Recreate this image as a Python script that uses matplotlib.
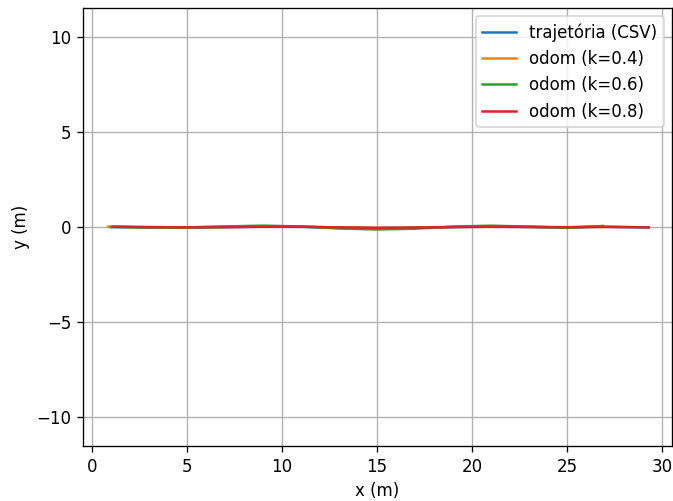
import matplotlib
matplotlib.use("Agg")
import matplotlib.pyplot as plt

# trajetória de referência (CSV)
x_csv = [1.0, 3.0, 5.0, 7.0, 9.0, 11.0, 13.0, 15.0, 17.0, 19.0, 21.0, 23.0, 25.0, 27.0, 29.3]
y_csv = [0.0, -0.02, -0.03, -0.01, 0.02, 0.01, -0.04, -0.06, -0.04, 0.0, 0.02, 0.0, -0.02, 0.02, -0.02]

# odometria com diferentes ganhos
x_k04 = [0.85, 3.0, 5.0, 7.0, 9.0, 11.0, 13.0, 15.0, 17.0, 19.0, 21.0, 23.0, 25.0, 26.9]
y_k04 = [0.02, 0.0, -0.02, 0.01, 0.04, 0.03, -0.03, -0.07, -0.05, 0.01, 0.04, 0.01, -0.02, 0.05]

x_k06 = [1.0, 3.0, 5.0, 7.0, 9.0, 11.0, 13.0, 15.0, 17.0, 19.0, 21.0, 23.0, 25.0, 26.9]
y_k06 = [0.0, -0.02, -0.02, 0.03, 0.07, 0.03, -0.08, -0.13, -0.09, 0.02, 0.07, 0.02, -0.05, 0.05]

x_k08 = [1.1, 3.0, 5.0, 7.0, 9.0, 11.0, 13.0, 15.0, 17.0, 19.0, 21.0, 23.0, 25.0, 27.0, 29.3]
y_k08 = [0.02, -0.01, -0.02, -0.01, 0.01, 0.01, -0.02, -0.04, -0.03, -0.01, 0.01, 0.0, -0.01, 0.0, -0.02]

# figura em dpi 120 -> 673x501 px
fig = plt.figure(figsize=(673 / 120, 501 / 120), dpi=120)
ax = fig.add_axes([0.1233, 0.1098, 0.8752, 0.8742])

ax.plot(x_csv, y_csv, label="trajetória (CSV)")
ax.plot(x_k04, y_k04, label="odom (k=0.4)")
ax.plot(x_k06, y_k06, label="odom (k=0.6)")
ax.plot(x_k08, y_k08, label="odom (k=0.8)")

ax.set_xlim(-0.47, 30.53)
ax.set_ylim(-11.53, 11.53)
ax.set_xticks([0, 5, 10, 15, 20, 25, 30])
ax.set_yticks([-10, -5, 0, 5, 10])
ax.set_xlabel("x (m)")
ax.set_ylabel("y (m)")
ax.grid(True)
ax.legend(loc="upper right")

fig.savefig("out.png", dpi=120)
